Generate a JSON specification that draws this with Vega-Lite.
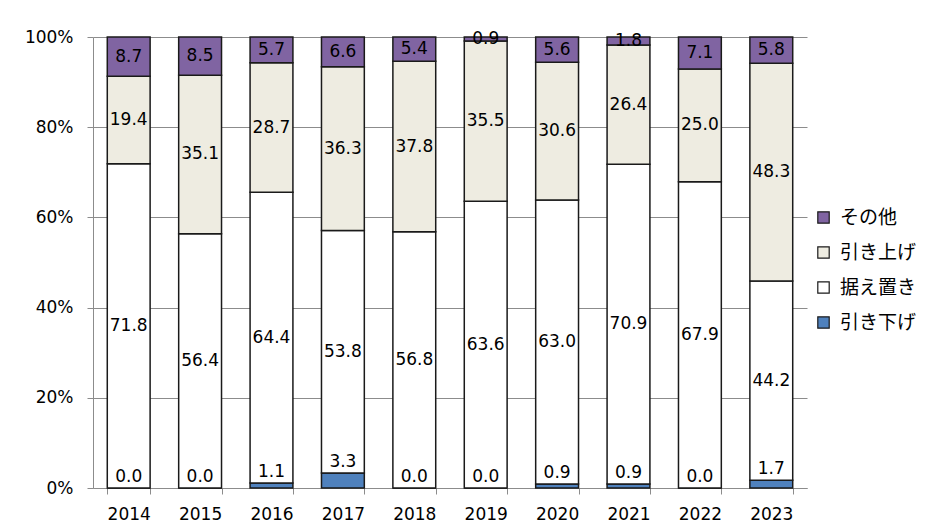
{
  "$schema": "https://vega.github.io/schema/vega-lite/v6.json",
  "width": 714,
  "height": 451,
  "autosize": "none",
  "padding": {"left": 93, "top": 37, "right": 128, "bottom": 40},
  "background": "white",
  "config": {
    "view": {"stroke": null},
    "font": "DejaVu Sans"
  },
  "data": {
    "values": [
      {"year": "2014", "cat": "引き下げ", "v": 0.0},
      {"year": "2014", "cat": "据え置き", "v": 71.8},
      {"year": "2014", "cat": "引き上げ", "v": 19.4},
      {"year": "2014", "cat": "その他", "v": 8.7},
      {"year": "2015", "cat": "引き下げ", "v": 0.0},
      {"year": "2015", "cat": "据え置き", "v": 56.4},
      {"year": "2015", "cat": "引き上げ", "v": 35.1},
      {"year": "2015", "cat": "その他", "v": 8.5},
      {"year": "2016", "cat": "引き下げ", "v": 1.1},
      {"year": "2016", "cat": "据え置き", "v": 64.4},
      {"year": "2016", "cat": "引き上げ", "v": 28.7},
      {"year": "2016", "cat": "その他", "v": 5.7},
      {"year": "2017", "cat": "引き下げ", "v": 3.3},
      {"year": "2017", "cat": "据え置き", "v": 53.8},
      {"year": "2017", "cat": "引き上げ", "v": 36.3},
      {"year": "2017", "cat": "その他", "v": 6.6},
      {"year": "2018", "cat": "引き下げ", "v": 0.0},
      {"year": "2018", "cat": "据え置き", "v": 56.8},
      {"year": "2018", "cat": "引き上げ", "v": 37.8},
      {"year": "2018", "cat": "その他", "v": 5.4},
      {"year": "2019", "cat": "引き下げ", "v": 0.0},
      {"year": "2019", "cat": "据え置き", "v": 63.6},
      {"year": "2019", "cat": "引き上げ", "v": 35.5},
      {"year": "2019", "cat": "その他", "v": 0.9},
      {"year": "2020", "cat": "引き下げ", "v": 0.9},
      {"year": "2020", "cat": "据え置き", "v": 63.0},
      {"year": "2020", "cat": "引き上げ", "v": 30.6},
      {"year": "2020", "cat": "その他", "v": 5.6},
      {"year": "2021", "cat": "引き下げ", "v": 0.9},
      {"year": "2021", "cat": "据え置き", "v": 70.9},
      {"year": "2021", "cat": "引き上げ", "v": 26.4},
      {"year": "2021", "cat": "その他", "v": 1.8},
      {"year": "2022", "cat": "引き下げ", "v": 0.0},
      {"year": "2022", "cat": "据え置き", "v": 67.9},
      {"year": "2022", "cat": "引き上げ", "v": 25.0},
      {"year": "2022", "cat": "その他", "v": 7.1},
      {"year": "2023", "cat": "引き下げ", "v": 1.7},
      {"year": "2023", "cat": "据え置き", "v": 44.2},
      {"year": "2023", "cat": "引き上げ", "v": 48.3},
      {"year": "2023", "cat": "その他", "v": 5.8}
    ]
  },
  "transform": [
    {"calculate": "indexof(['引き下げ','据え置き','引き上げ','その他'], datum.cat)", "as": "ord"},
    {"stack": "v", "groupby": ["year"], "sort": [{"field": "ord", "order": "ascending"}], "offset": "normalize", "as": ["y0", "y1"]},
    {"calculate": "(datum.y0 + datum.y1) / 2", "as": "mid"}
  ],
  "encoding": {
    "x": {
      "field": "year",
      "type": "nominal",
      "scale": {"paddingInner": 0.4, "paddingOuter": 0.2},
      "axis": {
        "title": null,
        "labelAngle": 0,
        "tickBand": "extent",
        "labelFont": "DejaVu Sans",
        "labelFontSize": 17,
        "labelColor": "#000000",
        "labelPadding": 12,
        "tickSize": 6,
        "tickColor": "#8c8c8c",
        "domainColor": "#8c8c8c",
        "grid": false
      }
    }
  },
  "layer": [
    {
      "mark": {"type": "bar", "stroke": "#1a1a1a", "strokeWidth": 1.5},
      "encoding": {
        "y": {
          "field": "y1",
          "type": "quantitative",
          "scale": {"domain": [0, 1]},
          "axis": {
            "title": null,
            "format": ".0%",
            "values": [0, 0.2, 0.4, 0.6, 0.8, 1],
            "labelFont": "DejaVu Sans",
            "labelFontSize": 17,
            "labelColor": "#000000",
            "labelPadding": 14,
            "tickSize": 6,
            "tickColor": "#8c8c8c",
            "domainColor": "#8c8c8c",
            "gridColor": "#8c8c8c",
            "gridWidth": 1
          }
        },
        "y2": {"field": "y0"},
        "color": {
          "field": "cat",
          "type": "nominal",
          "scale": {
            "domain": ["その他", "引き上げ", "据え置き", "引き下げ"],
            "range": ["#8064A2", "#EEECE1", "#FFFFFF", "#4F81BD"]
          },
          "legend": {
            "title": null,
            "orient": "none",
            "legendX": 721,
            "legendY": 171,
            "padding": 0,
            "symbolType": "square",
            "symbolSize": 130,
            "symbolStrokeColor": "#1a1a1a",
            "symbolStrokeWidth": 1.2,
            "symbolOpacity": 1,
            "labelFont": "Noto Sans CJK JP",
            "labelFontSize": 19,
            "labelColor": "#000000",
            "labelOffset": 7,
            "rowPadding": 15
          }
        }
      }
    },
    {
      "transform": [{"filter": "datum.cat !== '引き下げ'"}],
      "mark": {"type": "text", "font": "DejaVu Sans", "fontSize": 17, "color": "#000000", "baseline": "middle"},
      "encoding": {
        "y": {"field": "mid", "type": "quantitative"},
        "text": {"field": "v", "type": "quantitative", "format": ".1f"}
      }
    },
    {
      "transform": [{"filter": "datum.cat === '引き下げ'"}],
      "mark": {"type": "text", "font": "DejaVu Sans", "fontSize": 17, "color": "#000000", "baseline": "middle", "dy": -11},
      "encoding": {
        "y": {"field": "y1", "type": "quantitative"},
        "text": {"field": "v", "type": "quantitative", "format": ".1f"}
      }
    }
  ]
}
